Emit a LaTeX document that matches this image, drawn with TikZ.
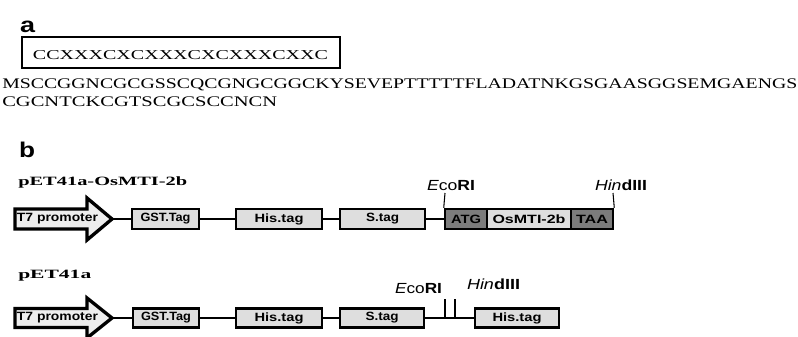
\documentclass[tikz,border=0pt]{standalone}
\usepackage{fontspec}
\setmainfont{Liberation Serif}
\setsansfont{Liberation Sans}
\newlength\pxu
\setlength\pxu{0.75pt}
\newcommand{\fw}[2]{\resizebox{#1\pxu}{\height}{#2}}
\definecolor{boxfill}{HTML}{DEDEDE}
\definecolor{darkfill}{HTML}{7C7C7C}
\definecolor{arrfill}{HTML}{EDEDED}
\begin{document}
\begin{tikzpicture}[x=0.75pt,y=-0.75pt,
  bw/.style={minimum width=#1*0.75pt},
  bh/.style={minimum height=#1*0.75pt},
  gbox/.style={draw, line width=1.9pt, fill=boxfill, inner sep=0pt,
    font=\sffamily\bfseries\fontsize{9}{10}\selectfont},
  dbox/.style={gbox, fill=darkfill},
  link/.style={line width=1.9pt},
  site/.style={line width=0.8pt},
  promo/.style={draw, line width=2.5pt, fill=arrfill, line join=miter},
  lab/.style={inner sep=0pt, anchor=base},
  sitelab/.style={lab, font=\sffamily\fontsize{11}{12}\selectfont},
  panel/.style={lab, font=\sffamily\bfseries\fontsize{16}{18}\selectfont},
  seq/.style={inner sep=0pt, anchor=base west, font=\fontsize{11}{13}\selectfont},
  vec/.style={inner sep=0pt, anchor=base west, font=\bfseries\fontsize{9.5}{11}\selectfont}
]
\useasboundingbox (0,0) rectangle (798,336);
\clip (0,0) rectangle (798,336);

% ---------- panel a ----------
\node[panel] (pa) at (27.5,32) {\fw{15}{a}};
\node[draw, line width=0.8pt, inner sep=0pt, bw=318, bh=31] (motif) at (181,52.5) {};
\node[lab, font=\fontsize{10.2}{12}\selectfont] (motiftxt) at (180.5,59) {\fw{295}{CCXXXCXCXXXCXCXXXCXXC}};
\node[seq] (seq1) at (2,88) {\fw{795}{MSCCGGNCGCGSSCQCGNGCGGCKYSEVEPTTTTTFLADATNKGSGAASGGSEMGAENGS}};
\node[seq] (seq2) at (2,106) {\fw{275}{CGCNTCKCGTSCGCSCCNCN}};

% ---------- panel b ----------
\node[panel] (pb) at (27,157) {\fw{16}{b}};

% row 1
\node[vec] (v1) at (18,185) {\fw{169}{pET41a-OsMTI-2b}};
\draw[promo] (15,209) -- (87,209) -- (87,198) -- (112,219) -- (87,240) -- (87,229) -- (15,229) -- cycle;
\coordinate (tip1) at (112,219);
\node[inner sep=0pt, font=\sffamily\bfseries\fontsize{9}{10}\selectfont] (t7a) at (57.5,219) {\fw{81}{T7 promoter}};
\node[gbox, bw=67, bh=20] (gst1) at (165.5,219) {\fw{50}{GST.Tag}};
\node[gbox, bw=86, bh=20] (his1) at (279,219) {\fw{49}{His.tag}};
\node[gbox, bw=85, bh=20] (s1) at (382.5,219) {\fw{33}{S.tag}};
\node[dbox, bw=42, bh=20] (atg) at (466,219) {\fw{30}{ATG}};
\node[gbox, bw=84, bh=20] (os) at (529,219) {\fw{73}{OsMTI-2b}};
\node[dbox, bw=42, bh=20] (taa) at (592,219) {\fw{32}{TAA}};
\draw[link] (tip1) -- (gst1.west);
\draw[link] (gst1.east) -- (his1.west);
\draw[link] (his1.east) -- (s1.west);
\draw[link] (s1.east) -- (atg.west);
\coordinate (eco1) at (445,193);
\coordinate (hind1) at (613,193);
\draw[site] (atg.north west) -- (eco1);
\draw[site] (taa.north east) -- (hind1);
\node[sitelab] (ecol1) at (451,190) {\fw{48}{\textit{E}co\textbf{RI}}};
\node[sitelab] (hindl1) at (621,190) {\fw{52}{\textit{Hin}\textbf{dIII}}};

% row 2
\node[vec] (v2) at (18,278) {\fw{73}{pET41a}};
\draw[promo] (15,308.5) -- (87,308.5) -- (87,298) -- (112,318) -- (87,338) -- (87,327.5) -- (15,327.5) -- cycle;
\coordinate (tip2) at (112,318);
\node[inner sep=0pt, font=\sffamily\bfseries\fontsize{9}{10}\selectfont] (t7b) at (57.5,318) {\fw{81}{T7 promoter}};
\node[gbox, bw=66, bh=19] (gst2) at (166,318) {\fw{50}{GST.Tag}};
\node[gbox, bw=86, bh=19] (his2) at (279,318) {\fw{49}{His.tag}};
\node[gbox, bw=84, bh=19] (s2) at (382,318) {\fw{33}{S.tag}};
\node[gbox, bw=84, bh=19] (his3) at (517,318) {\fw{49}{His.tag}};
\draw[link] (tip2) -- (gst2.west);
\draw[link] (gst2.east) -- (his2.west);
\draw[link] (his2.east) -- (s2.west);
\draw[link] (s2.east) -- (his3.west);
\coordinate (eb) at (445,318);
\coordinate (et) at (445,299);
\coordinate (hb) at (455,318);
\coordinate (ht) at (455,299);
\draw[site] (eb) -- (et);
\draw[site] (hb) -- (ht);
\node[sitelab] (ecol2) at (418.5,293) {\fw{47}{\textit{E}co\textbf{RI}}};
\node[sitelab] (hindl2) at (493.5,289) {\fw{53}{\textit{Hin}\textbf{dIII}}};
\end{tikzpicture}
\end{document}
